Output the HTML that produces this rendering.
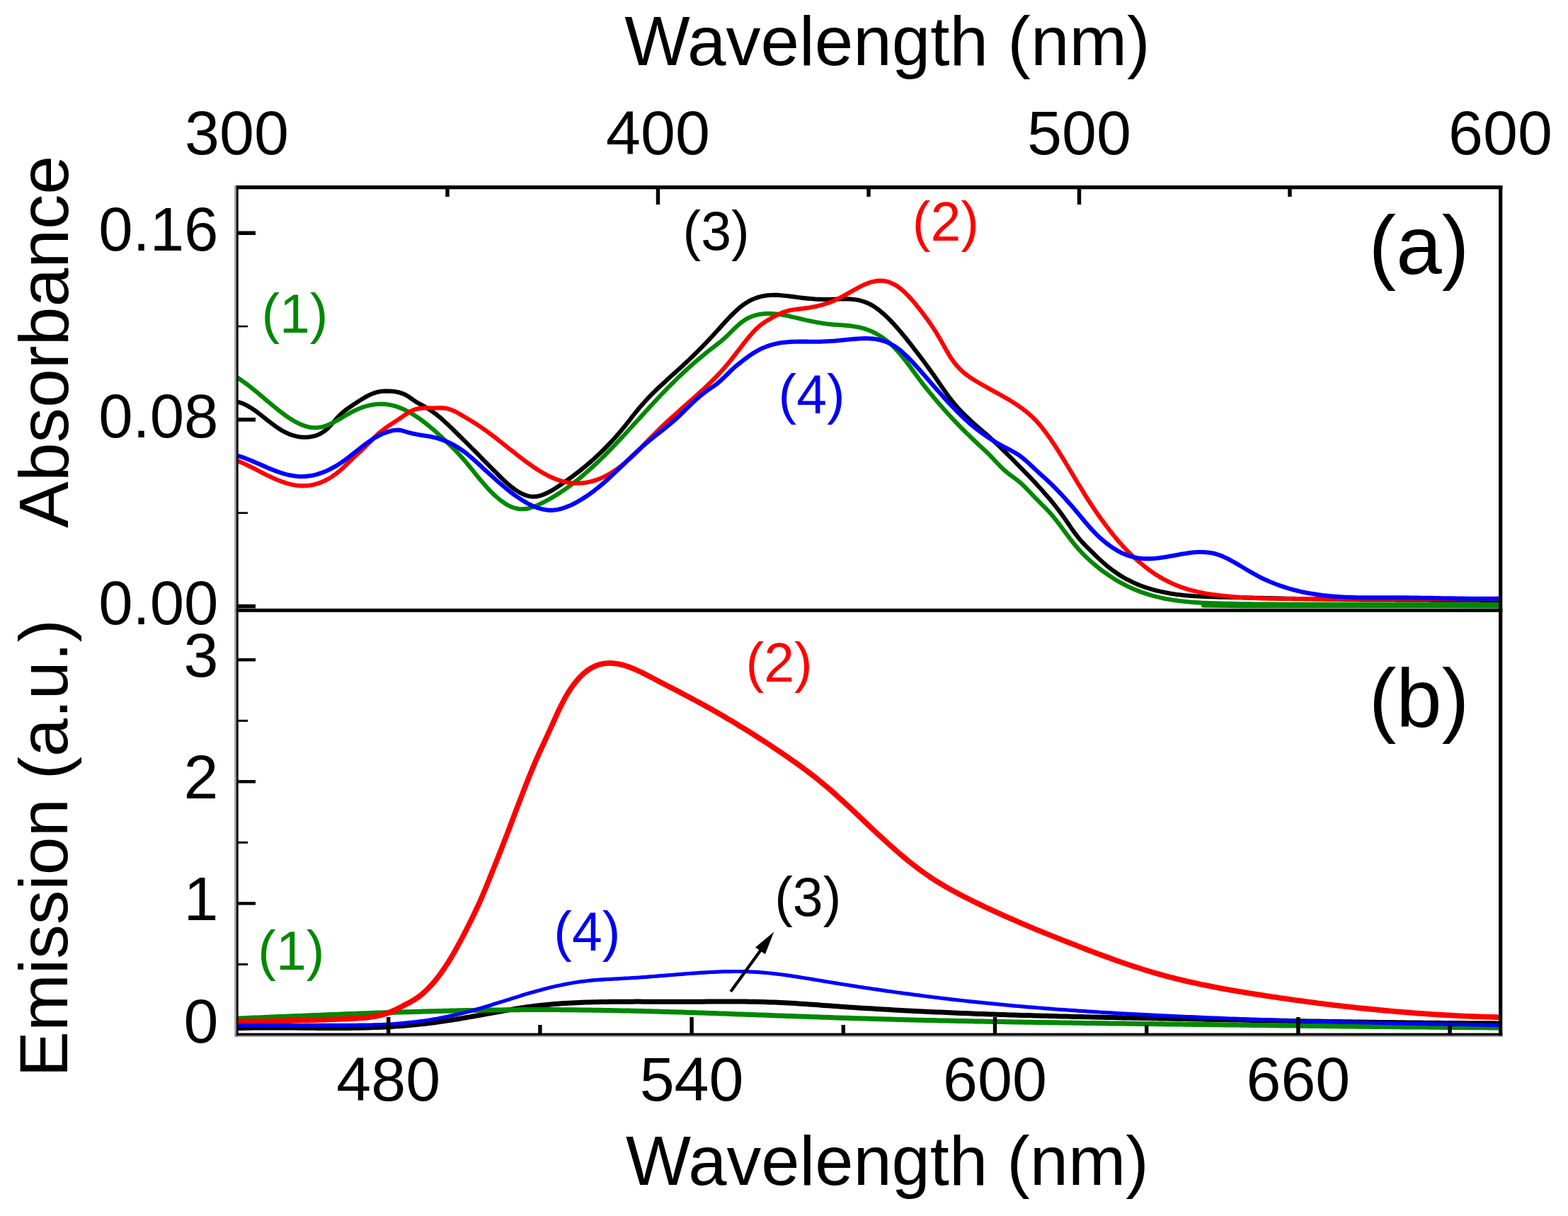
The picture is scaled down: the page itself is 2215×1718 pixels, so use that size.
<!DOCTYPE html>
<html><head><meta charset="utf-8"><title>Absorbance and emission spectra</title>
<style>html,body{margin:0;padding:0;background:#fff;width:2215px;height:1718px;overflow:hidden}</style>
</head><body>
<svg xmlns="http://www.w3.org/2000/svg" width="2215" height="1718" viewBox="0 0 2215 1718" style="display:block;font-family:'Liberation Sans',Arial,sans-serif">
<rect width="2215" height="1718" fill="#fff"/>
<defs><clipPath id="ct"><rect x="336" y="267" width="1781" height="593"/></clipPath><clipPath id="cb"><rect x="336" y="865" width="1781" height="595"/></clipPath></defs>
<g clip-path="url(#ct)" fill="none" stroke-linejoin="round" stroke-linecap="round" stroke-width="6.1">
<path d="M333.0,567.4 L338.0,568.4 L343.0,570.1 L348.0,572.4 L353.0,575.3 L358.0,578.5 L363.0,582.1 L368.0,585.9 L373.0,589.8 L378.0,593.8 L383.0,597.7 L388.0,601.4 L393.0,604.9 L398.0,608.1 L403.0,610.8 L408.0,613.1 L413.0,614.9 L418.0,616.3 L423.0,617.2 L428.0,617.7 L433.0,617.7 L438.0,617.2 L443.0,616.3 L448.0,614.8 L453.0,612.5 L458.0,609.3 L463.0,605.1 L468.0,599.8 L473.0,594.2 L478.0,588.6 L483.0,583.7 L488.0,579.6 L493.0,576.0 L498.0,572.6 L503.0,569.3 L508.0,566.0 L513.0,562.9 L518.0,560.0 L523.0,557.5 L528.0,555.5 L533.0,553.9 L538.0,553.0 L543.0,552.6 L548.0,552.6 L553.0,552.8 L558.0,553.3 L563.0,554.3 L568.0,555.7 L573.0,557.9 L578.0,560.9 L583.0,564.5 L588.0,567.9 L593.0,570.8 L598.0,573.5 L603.0,576.4 L608.0,579.5 L613.0,583.0 L618.0,586.8 L623.0,590.9 L628.0,595.4 L633.0,600.1 L638.0,604.9 L643.0,609.8 L648.0,614.7 L653.0,619.7 L658.0,624.6 L663.0,629.6 L668.0,634.6 L673.0,639.7 L678.0,644.7 L683.0,649.8 L688.0,654.9 L693.0,659.9 L698.0,665.0 L703.0,670.0 L708.0,675.0 L713.0,679.7 L718.0,684.2 L723.0,688.3 L728.0,692.0 L733.0,695.2 L738.0,697.9 L743.0,699.9 L748.0,701.2 L753.0,701.7 L758.0,701.4 L763.0,700.3 L768.0,698.6 L773.0,696.4 L778.0,693.8 L783.0,690.8 L788.0,687.6 L793.0,684.2 L798.0,680.8 L803.0,677.2 L808.0,673.6 L813.0,669.8 L818.0,666.0 L823.0,662.0 L828.0,657.9 L833.0,653.6 L838.0,649.2 L843.0,644.6 L848.0,639.9 L853.0,635.0 L858.0,629.9 L863.0,624.7 L868.0,619.2 L873.0,613.6 L878.0,607.7 L883.0,601.6 L888.0,595.3 L893.0,588.9 L898.0,582.6 L903.0,576.5 L908.0,570.7 L913.0,565.2 L918.0,559.9 L923.0,554.9 L928.0,550.0 L933.0,545.3 L938.0,540.7 L943.0,536.1 L948.0,531.6 L953.0,527.1 L958.0,522.6 L963.0,518.0 L968.0,513.3 L973.0,508.6 L978.0,503.8 L983.0,498.9 L988.0,493.9 L993.0,488.8 L998.0,483.6 L1003.0,478.3 L1008.0,473.0 L1013.0,467.5 L1018.0,461.9 L1023.0,456.4 L1028.0,450.9 L1033.0,445.7 L1038.0,440.8 L1043.0,436.2 L1048.0,432.1 L1053.0,428.6 L1058.0,425.5 L1063.0,423.0 L1068.0,421.0 L1073.0,419.4 L1078.0,418.2 L1083.0,417.4 L1088.0,417.0 L1093.0,416.8 L1098.0,416.9 L1103.0,417.2 L1108.0,417.7 L1113.0,418.3 L1118.0,418.9 L1123.0,419.6 L1128.0,420.3 L1133.0,420.9 L1138.0,421.4 L1143.0,421.9 L1148.0,422.3 L1153.0,422.7 L1158.0,422.9 L1163.0,423.0 L1168.0,423.0 L1173.0,423.0 L1178.0,422.8 L1183.0,422.6 L1188.0,422.4 L1193.0,422.4 L1198.0,422.4 L1203.0,422.7 L1208.0,423.3 L1213.0,424.1 L1218.0,425.4 L1223.0,427.1 L1228.0,429.3 L1233.0,432.0 L1238.0,435.3 L1243.0,439.1 L1248.0,443.3 L1253.0,447.9 L1258.0,453.0 L1263.0,458.3 L1268.0,463.9 L1273.0,469.8 L1278.0,475.8 L1283.0,482.0 L1288.0,488.4 L1293.0,494.8 L1298.0,501.3 L1303.0,508.0 L1308.0,514.7 L1313.0,521.6 L1318.0,528.6 L1323.0,535.8 L1328.0,543.0 L1333.0,550.2 L1338.0,557.3 L1343.0,564.0 L1348.0,570.2 L1353.0,576.0 L1358.0,581.4 L1363.0,586.5 L1368.0,591.3 L1373.0,595.9 L1378.0,600.4 L1383.0,604.8 L1388.0,609.1 L1393.0,613.4 L1398.0,617.8 L1403.0,622.4 L1408.0,627.0 L1413.0,631.8 L1418.0,636.7 L1423.0,641.7 L1428.0,646.7 L1433.0,651.7 L1438.0,656.8 L1443.0,661.9 L1448.0,667.1 L1453.0,672.2 L1458.0,677.4 L1463.0,682.7 L1468.0,688.2 L1473.0,693.7 L1478.0,699.4 L1483.0,705.3 L1488.0,711.3 L1493.0,717.6 L1498.0,724.2 L1503.0,731.1 L1508.0,738.3 L1513.0,745.6 L1518.0,752.7 L1523.0,759.2 L1528.0,765.1 L1533.0,770.4 L1538.0,775.4 L1543.0,780.3 L1548.0,785.2 L1553.0,789.9 L1558.0,794.5 L1563.0,798.8 L1568.0,802.9 L1573.0,806.6 L1578.0,810.1 L1583.0,813.4 L1588.0,816.3 L1593.0,819.1 L1598.0,821.6 L1603.0,823.9 L1608.0,826.1 L1613.0,828.0 L1618.0,829.8 L1623.0,831.4 L1628.0,832.9 L1633.0,834.2 L1638.0,835.4 L1643.0,836.5 L1648.0,837.5 L1653.0,838.4 L1658.0,839.2 L1663.0,839.9 L1668.0,840.5 L1673.0,841.1 L1678.0,841.5 L1683.0,841.9 L1688.0,842.3 L1693.0,842.5 L1698.0,842.8 L1703.0,843.0 L1708.0,843.2 L1713.0,843.3 L1718.0,843.4 L1723.0,843.6 L1728.0,843.7 L1733.0,843.8 L1738.0,843.9 L1743.0,844.0 L1748.0,844.1 L1753.0,844.2 L1758.0,844.4 L1763.0,844.5 L1768.0,844.6 L1773.0,844.7 L1778.0,844.8 L1783.0,844.9 L1788.0,845.0 L1793.0,845.1 L1798.0,845.3 L1803.0,845.4 L1808.0,845.5 L1813.0,845.6 L1818.0,845.7 L1823.0,845.8 L1828.0,845.9 L1833.0,846.0 L1838.0,846.0 L1843.0,846.1 L1848.0,846.2 L1853.0,846.3 L1858.0,846.4 L1863.0,846.4 L1868.0,846.5 L1873.0,846.6 L1878.0,846.6 L1883.0,846.7 L1888.0,846.8 L1893.0,846.8 L1898.0,846.9 L1903.0,846.9 L1908.0,847.0 L1913.0,847.0 L1918.0,847.0 L1923.0,847.1 L1928.0,847.1 L1933.0,847.1 L1938.0,847.2 L1943.0,847.2 L1948.0,847.2 L1953.0,847.3 L1958.0,847.3 L1963.0,847.3 L1968.0,847.3 L1973.0,847.4 L1978.0,847.4 L1983.0,847.4 L1988.0,847.4 L1993.0,847.4 L1998.0,847.5 L2003.0,847.5 L2008.0,847.5 L2013.0,847.5 L2018.0,847.5 L2023.0,847.6 L2028.0,847.6 L2033.0,847.6 L2038.0,847.6 L2043.0,847.6 L2048.0,847.7 L2053.0,847.7 L2058.0,847.7 L2063.0,847.7 L2068.0,847.7 L2073.0,847.8 L2078.0,847.8 L2083.0,847.8 L2088.0,847.8 L2093.0,847.9 L2098.0,847.9 L2103.0,847.9 L2108.0,848.0 L2113.0,848.0 L2118.0,848.1" stroke="#000000"/>
<path d="M1700,855.5 L1760,856.2 L2118,856.4" stroke="#008800" stroke-width="6"/>
<path d="M333.0,532.1 L338.0,535.2 L343.0,538.7 L348.0,542.3 L353.0,546.1 L358.0,550.1 L363.0,554.2 L368.0,558.4 L373.0,562.6 L378.0,566.8 L383.0,571.0 L388.0,575.1 L393.0,579.1 L398.0,583.0 L403.0,586.7 L408.0,590.2 L413.0,593.4 L418.0,596.3 L423.0,598.8 L428.0,600.9 L433.0,602.6 L438.0,603.7 L443.0,604.3 L448.0,604.3 L453.0,603.6 L458.0,602.4 L463.0,600.6 L468.0,598.3 L473.0,595.8 L478.0,593.0 L483.0,590.1 L488.0,587.1 L493.0,584.3 L498.0,581.6 L503.0,579.2 L508.0,577.0 L513.0,575.2 L518.0,573.6 L523.0,572.4 L528.0,571.5 L533.0,571.0 L538.0,570.8 L543.0,570.9 L548.0,571.5 L553.0,572.4 L558.0,573.7 L563.0,575.3 L568.0,577.3 L573.0,579.7 L578.0,582.3 L583.0,585.2 L588.0,588.4 L593.0,591.8 L598.0,595.5 L603.0,599.4 L608.0,603.5 L613.0,607.8 L618.0,612.2 L623.0,616.7 L628.0,621.4 L633.0,626.2 L638.0,631.1 L643.0,636.1 L648.0,641.4 L653.0,646.9 L658.0,652.6 L663.0,658.7 L668.0,664.9 L673.0,671.1 L678.0,677.2 L683.0,683.1 L688.0,688.8 L693.0,694.1 L698.0,699.0 L703.0,703.5 L708.0,707.6 L713.0,711.1 L718.0,714.1 L723.0,716.4 L728.0,718.1 L733.0,719.1 L738.0,719.3 L743.0,718.9 L748.0,717.9 L753.0,716.3 L758.0,714.4 L763.0,712.1 L768.0,709.6 L773.0,706.9 L778.0,704.1 L783.0,701.1 L788.0,698.1 L793.0,694.8 L798.0,691.4 L803.0,687.9 L808.0,684.1 L813.0,680.3 L818.0,676.3 L823.0,672.1 L828.0,667.8 L833.0,663.4 L838.0,658.8 L843.0,654.2 L848.0,649.4 L853.0,644.5 L858.0,639.5 L863.0,634.4 L868.0,629.2 L873.0,623.9 L878.0,618.6 L883.0,613.2 L888.0,607.8 L893.0,602.3 L898.0,596.8 L903.0,591.4 L908.0,585.9 L913.0,580.4 L918.0,574.9 L923.0,569.5 L928.0,564.2 L933.0,558.8 L938.0,553.6 L943.0,548.4 L948.0,543.3 L953.0,538.3 L958.0,533.4 L963.0,528.7 L968.0,524.0 L973.0,519.5 L978.0,515.0 L983.0,510.7 L988.0,506.4 L993.0,502.3 L998.0,498.2 L1003.0,494.2 L1008.0,490.3 L1013.0,486.5 L1018.0,482.6 L1023.0,478.3 L1028.0,473.7 L1033.0,468.7 L1038.0,463.8 L1043.0,459.1 L1048.0,454.9 L1053.0,451.5 L1058.0,448.8 L1063.0,446.7 L1068.0,445.2 L1073.0,444.1 L1078.0,443.4 L1083.0,443.1 L1088.0,443.1 L1093.0,443.3 L1098.0,443.8 L1103.0,444.5 L1108.0,445.3 L1113.0,446.3 L1118.0,447.4 L1123.0,448.6 L1128.0,449.8 L1133.0,450.9 L1138.0,452.1 L1143.0,453.2 L1148.0,454.2 L1153.0,455.2 L1158.0,456.1 L1163.0,456.9 L1168.0,457.6 L1173.0,458.1 L1178.0,458.6 L1183.0,458.9 L1188.0,459.3 L1193.0,459.6 L1198.0,460.1 L1203.0,460.6 L1208.0,461.4 L1213.0,462.3 L1218.0,463.5 L1223.0,465.0 L1228.0,466.8 L1233.0,469.0 L1238.0,471.5 L1243.0,474.5 L1248.0,477.8 L1253.0,481.7 L1258.0,485.9 L1263.0,490.7 L1268.0,496.1 L1273.0,501.9 L1278.0,508.2 L1283.0,514.7 L1288.0,521.4 L1293.0,528.2 L1298.0,535.0 L1303.0,541.6 L1308.0,548.0 L1313.0,554.2 L1318.0,560.3 L1323.0,566.3 L1328.0,572.1 L1333.0,577.8 L1338.0,583.3 L1343.0,588.8 L1348.0,594.1 L1353.0,599.4 L1358.0,604.5 L1363.0,609.5 L1368.0,614.4 L1373.0,619.3 L1378.0,624.0 L1383.0,628.7 L1388.0,633.3 L1393.0,638.0 L1398.0,642.9 L1403.0,648.2 L1408.0,653.5 L1413.0,658.7 L1418.0,663.6 L1423.0,667.9 L1428.0,671.7 L1433.0,675.3 L1438.0,679.2 L1443.0,683.4 L1448.0,688.3 L1453.0,693.4 L1458.0,698.7 L1463.0,703.9 L1468.0,708.9 L1473.0,713.9 L1478.0,718.9 L1483.0,724.3 L1488.0,730.1 L1493.0,736.4 L1498.0,742.9 L1503.0,749.7 L1508.0,756.4 L1513.0,763.0 L1518.0,769.3 L1523.0,775.2 L1528.0,780.6 L1533.0,785.7 L1538.0,790.4 L1543.0,794.9 L1548.0,799.1 L1553.0,803.2 L1558.0,807.0 L1563.0,810.6 L1568.0,814.0 L1573.0,817.3 L1578.0,820.3 L1583.0,823.2 L1588.0,825.8 L1593.0,828.4 L1598.0,830.7 L1603.0,832.9 L1608.0,834.9 L1613.0,836.8 L1618.0,838.5 L1623.0,840.1 L1628.0,841.6 L1633.0,842.9 L1638.0,844.1 L1643.0,845.2 L1648.0,846.2 L1653.0,847.1 L1658.0,847.9 L1663.0,848.6 L1668.0,849.2 L1673.0,849.8 L1678.0,850.3 L1683.0,850.7 L1688.0,851.1 L1693.0,851.4 L1698.0,851.7 L1703.0,851.9 L1708.0,852.1 L1713.0,852.3 L1718.0,852.4 L1723.0,852.6 L1728.0,852.7 L1733.0,852.8 L1738.0,852.9 L1743.0,853.0 L1748.0,853.1 L1753.0,853.2 L1758.0,853.3 L1763.0,853.3 L1768.0,853.4 L1773.0,853.5 L1778.0,853.5 L1783.0,853.5 L1788.0,853.6 L1793.0,853.6 L1798.0,853.6 L1803.0,853.7 L1808.0,853.7 L1813.0,853.7 L1818.0,853.7 L1823.0,853.7 L1828.0,853.7 L1833.0,853.7 L1838.0,853.7 L1843.0,853.8 L1848.0,853.8 L1853.0,853.8 L1858.0,853.8 L1863.0,853.8 L1868.0,853.8 L1873.0,853.8 L1878.0,853.8 L1883.0,853.8 L1888.0,853.8 L1893.0,853.8 L1898.0,853.8 L1903.0,853.8 L1908.0,853.8 L1913.0,853.9 L1918.0,853.9 L1923.0,853.9 L1928.0,853.9 L1933.0,853.9 L1938.0,853.9 L1943.0,853.9 L1948.0,853.9 L1953.0,853.9 L1958.0,853.9 L1963.0,853.9 L1968.0,854.0 L1973.0,854.0 L1978.0,854.0 L1983.0,854.0 L1988.0,854.0 L1993.0,854.0 L1998.0,854.0 L2003.0,854.0 L2008.0,854.0 L2013.0,854.0 L2018.0,854.0 L2023.0,854.0 L2028.0,854.0 L2033.0,854.0 L2038.0,854.0 L2043.0,854.0 L2048.0,854.0 L2053.0,854.0 L2058.0,854.0 L2063.0,854.0 L2068.0,854.0 L2073.0,854.0 L2078.0,854.0 L2083.0,854.0 L2088.0,854.0 L2093.0,854.0 L2098.0,854.0 L2103.0,854.0 L2108.0,854.0 L2113.0,854.0 L2118.0,854.0" stroke="#008800"/>
<path d="M333.0,650.0 L338.0,652.1 L343.0,654.3 L348.0,656.6 L353.0,659.1 L358.0,661.6 L363.0,664.1 L368.0,666.7 L373.0,669.2 L378.0,671.7 L383.0,674.1 L388.0,676.4 L393.0,678.5 L398.0,680.4 L403.0,682.2 L408.0,683.6 L413.0,684.8 L418.0,685.7 L423.0,686.2 L428.0,686.4 L433.0,686.2 L438.0,685.7 L443.0,684.7 L448.0,683.4 L453.0,681.7 L458.0,679.5 L463.0,677.0 L468.0,674.0 L473.0,670.6 L478.0,666.8 L483.0,662.5 L488.0,657.8 L493.0,652.9 L498.0,648.0 L503.0,643.3 L508.0,638.7 L513.0,634.0 L518.0,629.1 L523.0,624.0 L528.0,618.9 L533.0,614.1 L538.0,609.8 L543.0,605.9 L548.0,602.3 L553.0,599.0 L558.0,595.7 L563.0,592.5 L568.0,589.1 L573.0,585.6 L578.0,582.3 L583.0,579.7 L588.0,577.9 L593.0,576.9 L598.0,576.5 L603.0,576.4 L608.0,576.5 L613.0,576.5 L618.0,576.4 L623.0,576.3 L628.0,576.6 L633.0,577.6 L638.0,579.2 L643.0,581.4 L648.0,584.1 L653.0,587.0 L658.0,590.0 L663.0,593.0 L668.0,596.1 L673.0,599.2 L678.0,602.5 L683.0,605.9 L688.0,609.5 L693.0,613.2 L698.0,617.0 L703.0,620.9 L708.0,624.8 L713.0,628.8 L718.0,632.8 L723.0,636.7 L728.0,640.7 L733.0,644.6 L738.0,648.4 L743.0,652.2 L748.0,655.8 L753.0,659.3 L758.0,662.6 L763.0,665.8 L768.0,668.7 L773.0,671.4 L778.0,673.9 L783.0,676.1 L788.0,678.0 L793.0,679.6 L798.0,680.9 L803.0,681.8 L808.0,682.5 L813.0,682.8 L818.0,682.8 L823.0,682.4 L828.0,681.8 L833.0,680.8 L838.0,679.5 L843.0,677.9 L848.0,676.0 L853.0,673.8 L858.0,671.2 L863.0,668.3 L868.0,665.2 L873.0,661.7 L878.0,657.9 L883.0,653.8 L888.0,649.5 L893.0,645.0 L898.0,640.2 L903.0,635.2 L908.0,630.1 L913.0,624.9 L918.0,619.7 L923.0,614.6 L928.0,609.6 L933.0,604.7 L938.0,600.0 L943.0,595.3 L948.0,590.7 L953.0,586.2 L958.0,581.7 L963.0,577.2 L968.0,572.8 L973.0,568.4 L978.0,563.9 L983.0,559.5 L988.0,555.0 L993.0,550.4 L998.0,545.7 L1003.0,540.9 L1008.0,536.0 L1013.0,530.9 L1018.0,525.5 L1023.0,520.0 L1028.0,514.1 L1033.0,508.0 L1038.0,501.6 L1043.0,495.1 L1048.0,488.6 L1053.0,482.1 L1058.0,476.0 L1063.0,470.2 L1068.0,465.0 L1073.0,460.4 L1078.0,456.6 L1083.0,453.3 L1088.0,450.4 L1093.0,447.6 L1098.0,445.0 L1103.0,442.6 L1108.0,440.6 L1113.0,439.1 L1118.0,438.0 L1123.0,437.2 L1128.0,436.6 L1133.0,436.0 L1138.0,435.4 L1143.0,434.7 L1148.0,433.8 L1153.0,432.8 L1158.0,431.6 L1163.0,430.2 L1168.0,428.6 L1173.0,426.8 L1178.0,424.8 L1183.0,422.5 L1188.0,420.0 L1193.0,417.3 L1198.0,414.5 L1203.0,411.6 L1208.0,408.8 L1213.0,406.1 L1218.0,403.5 L1223.0,401.3 L1228.0,399.4 L1233.0,397.9 L1238.0,396.9 L1243.0,396.5 L1248.0,396.8 L1253.0,397.7 L1258.0,399.4 L1263.0,401.7 L1268.0,404.7 L1273.0,408.5 L1278.0,412.9 L1283.0,417.9 L1288.0,423.4 L1293.0,429.3 L1298.0,435.5 L1303.0,441.9 L1308.0,448.6 L1313.0,455.5 L1318.0,462.9 L1323.0,470.7 L1328.0,479.1 L1333.0,488.0 L1338.0,496.9 L1343.0,505.2 L1348.0,512.2 L1353.0,518.2 L1358.0,523.3 L1363.0,527.7 L1368.0,531.5 L1373.0,534.9 L1378.0,538.0 L1383.0,541.0 L1388.0,543.9 L1393.0,546.7 L1398.0,549.5 L1403.0,552.2 L1408.0,555.0 L1413.0,557.7 L1418.0,560.6 L1423.0,563.4 L1428.0,566.5 L1433.0,569.6 L1438.0,572.9 L1443.0,576.4 L1448.0,580.2 L1453.0,584.3 L1458.0,588.8 L1463.0,593.7 L1468.0,599.3 L1473.0,605.4 L1478.0,612.0 L1483.0,618.9 L1488.0,626.3 L1493.0,633.9 L1498.0,641.8 L1503.0,649.9 L1508.0,658.2 L1513.0,666.5 L1518.0,674.9 L1523.0,683.2 L1528.0,691.4 L1533.0,699.6 L1538.0,707.5 L1543.0,715.1 L1548.0,722.6 L1553.0,729.7 L1558.0,736.6 L1563.0,743.3 L1568.0,749.8 L1573.0,756.1 L1578.0,762.2 L1583.0,768.0 L1588.0,773.5 L1593.0,778.7 L1598.0,783.6 L1603.0,788.3 L1608.0,792.8 L1613.0,797.0 L1618.0,801.1 L1623.0,804.9 L1628.0,808.5 L1633.0,811.9 L1638.0,815.0 L1643.0,817.9 L1648.0,820.6 L1653.0,823.0 L1658.0,825.3 L1663.0,827.4 L1668.0,829.3 L1673.0,831.0 L1678.0,832.6 L1683.0,834.0 L1688.0,835.2 L1693.0,836.4 L1698.0,837.4 L1703.0,838.4 L1708.0,839.2 L1713.0,839.9 L1718.0,840.6 L1723.0,841.2 L1728.0,841.8 L1733.0,842.3 L1738.0,842.8 L1743.0,843.2 L1748.0,843.6 L1753.0,844.0 L1758.0,844.3 L1763.0,844.6 L1768.0,844.8 L1773.0,845.0 L1778.0,845.2 L1783.0,845.4 L1788.0,845.5 L1793.0,845.7 L1798.0,845.8 L1803.0,845.8 L1808.0,845.9 L1813.0,846.0 L1818.0,846.0 L1823.0,846.0 L1828.0,846.1 L1833.0,846.1 L1838.0,846.1 L1843.0,846.1 L1848.0,846.1 L1853.0,846.1 L1858.0,846.1 L1863.0,846.1 L1868.0,846.1 L1873.0,846.2 L1878.0,846.2 L1883.0,846.2 L1888.0,846.2 L1893.0,846.2 L1898.0,846.2 L1903.0,846.2 L1908.0,846.2 L1913.0,846.2 L1918.0,846.2 L1923.0,846.2 L1928.0,846.2 L1933.0,846.2 L1938.0,846.2 L1943.0,846.2 L1948.0,846.2 L1953.0,846.2 L1958.0,846.2 L1963.0,846.2 L1968.0,846.2 L1973.0,846.2 L1978.0,846.2 L1983.0,846.2 L1988.0,846.2 L1993.0,846.2 L1998.0,846.2 L2003.0,846.2 L2008.0,846.2 L2013.0,846.2 L2018.0,846.2 L2023.0,846.2 L2028.0,846.2 L2033.0,846.2 L2038.0,846.2 L2043.0,846.2 L2048.0,846.2 L2053.0,846.2 L2058.0,846.2 L2063.0,846.2 L2068.0,846.3 L2073.0,846.3 L2078.0,846.3 L2083.0,846.3 L2088.0,846.3 L2093.0,846.3 L2098.0,846.3 L2103.0,846.3 L2108.0,846.3 L2113.0,846.3 L2118.0,846.3" stroke="#ff0000"/>
<path d="M333.0,643.1 L338.0,644.6 L343.0,646.2 L348.0,648.1 L353.0,650.0 L358.0,652.1 L363.0,654.2 L368.0,656.4 L373.0,658.6 L378.0,660.8 L383.0,662.8 L388.0,664.8 L393.0,666.7 L398.0,668.4 L403.0,669.9 L408.0,671.1 L413.0,672.1 L418.0,672.8 L423.0,673.2 L428.0,673.2 L433.0,672.9 L438.0,672.3 L443.0,671.4 L448.0,670.1 L453.0,668.5 L458.0,666.7 L463.0,664.5 L468.0,662.0 L473.0,659.3 L478.0,656.3 L483.0,653.0 L488.0,649.4 L493.0,645.6 L498.0,641.7 L503.0,637.8 L508.0,633.8 L513.0,629.9 L518.0,626.2 L523.0,622.7 L528.0,619.4 L533.0,616.5 L538.0,614.0 L543.0,611.8 L548.0,610.1 L553.0,608.6 L558.0,607.7 L563.0,607.5 L568.0,608.3 L573.0,609.8 L578.0,611.3 L583.0,612.6 L588.0,613.6 L593.0,614.4 L598.0,615.2 L603.0,615.9 L608.0,616.8 L613.0,617.9 L618.0,619.2 L623.0,620.8 L628.0,622.6 L633.0,624.7 L638.0,627.1 L643.0,629.8 L648.0,632.9 L653.0,636.2 L658.0,639.9 L663.0,644.0 L668.0,648.3 L673.0,652.8 L678.0,657.3 L683.0,661.9 L688.0,666.5 L693.0,671.1 L698.0,675.6 L703.0,680.0 L708.0,684.3 L713.0,688.5 L718.0,692.6 L723.0,696.5 L728.0,700.2 L733.0,703.6 L738.0,706.9 L743.0,709.9 L748.0,712.6 L753.0,715.0 L758.0,717.0 L763.0,718.6 L768.0,719.8 L773.0,720.6 L778.0,720.9 L783.0,720.6 L788.0,719.9 L793.0,718.7 L798.0,717.1 L803.0,715.2 L808.0,712.9 L813.0,710.4 L818.0,707.6 L823.0,704.6 L828.0,701.4 L833.0,697.9 L838.0,694.3 L843.0,690.4 L848.0,686.4 L853.0,682.1 L858.0,677.7 L863.0,673.1 L868.0,668.4 L873.0,663.6 L878.0,658.8 L883.0,654.0 L888.0,649.1 L893.0,644.3 L898.0,639.6 L903.0,635.0 L908.0,630.5 L913.0,626.2 L918.0,622.0 L923.0,617.9 L928.0,613.9 L933.0,610.0 L938.0,606.0 L943.0,601.9 L948.0,597.8 L953.0,593.4 L958.0,588.9 L963.0,584.2 L968.0,579.3 L973.0,574.4 L978.0,569.6 L983.0,564.9 L988.0,560.4 L993.0,556.3 L998.0,552.5 L1003.0,549.1 L1008.0,545.8 L1013.0,542.1 L1018.0,537.9 L1023.0,533.1 L1028.0,528.2 L1033.0,523.3 L1038.0,518.6 L1043.0,514.5 L1048.0,510.6 L1053.0,506.8 L1058.0,503.1 L1063.0,499.7 L1068.0,496.6 L1073.0,493.8 L1078.0,491.5 L1083.0,489.5 L1088.0,487.8 L1093.0,486.4 L1098.0,485.2 L1103.0,484.3 L1108.0,483.7 L1113.0,483.2 L1118.0,482.9 L1123.0,482.7 L1128.0,482.6 L1133.0,482.6 L1138.0,482.6 L1143.0,482.7 L1148.0,482.7 L1153.0,482.7 L1158.0,482.7 L1163.0,482.5 L1168.0,482.3 L1173.0,482.0 L1178.0,481.7 L1183.0,481.3 L1188.0,480.8 L1193.0,480.3 L1198.0,479.8 L1203.0,479.3 L1208.0,478.9 L1213.0,478.5 L1218.0,478.2 L1223.0,478.1 L1228.0,478.2 L1233.0,478.6 L1238.0,479.3 L1243.0,480.3 L1248.0,481.7 L1253.0,483.5 L1258.0,485.8 L1263.0,488.6 L1268.0,492.0 L1273.0,495.9 L1278.0,500.4 L1283.0,505.2 L1288.0,510.4 L1293.0,515.9 L1298.0,521.4 L1303.0,527.1 L1308.0,532.8 L1313.0,538.5 L1318.0,544.2 L1323.0,549.9 L1328.0,555.5 L1333.0,561.1 L1338.0,566.6 L1343.0,572.0 L1348.0,577.2 L1353.0,582.4 L1358.0,587.3 L1363.0,592.0 L1368.0,596.6 L1373.0,600.9 L1378.0,605.0 L1383.0,608.9 L1388.0,612.6 L1393.0,616.1 L1398.0,619.5 L1403.0,622.6 L1408.0,625.6 L1413.0,628.5 L1418.0,631.2 L1423.0,633.8 L1428.0,636.4 L1433.0,639.1 L1438.0,642.1 L1443.0,645.7 L1448.0,649.8 L1453.0,654.3 L1458.0,659.0 L1463.0,663.6 L1468.0,668.2 L1473.0,672.7 L1478.0,677.3 L1483.0,681.9 L1488.0,686.8 L1493.0,691.8 L1498.0,697.1 L1503.0,702.5 L1508.0,708.1 L1513.0,713.8 L1518.0,719.6 L1523.0,725.5 L1528.0,731.5 L1533.0,737.5 L1538.0,743.4 L1543.0,748.9 L1548.0,754.1 L1553.0,759.0 L1558.0,763.4 L1563.0,767.5 L1568.0,771.3 L1573.0,774.7 L1578.0,777.7 L1583.0,780.4 L1588.0,782.7 L1593.0,784.7 L1598.0,786.3 L1603.0,787.5 L1608.0,788.5 L1613.0,789.1 L1618.0,789.4 L1623.0,789.4 L1628.0,789.2 L1633.0,788.8 L1638.0,788.2 L1643.0,787.5 L1648.0,786.7 L1653.0,785.8 L1658.0,784.9 L1663.0,784.0 L1668.0,783.0 L1673.0,782.2 L1678.0,781.4 L1683.0,780.8 L1688.0,780.3 L1693.0,780.0 L1698.0,780.0 L1703.0,780.2 L1708.0,780.7 L1713.0,781.5 L1718.0,782.8 L1723.0,784.4 L1728.0,786.4 L1733.0,788.7 L1738.0,791.3 L1743.0,794.1 L1748.0,797.0 L1753.0,800.0 L1758.0,803.0 L1763.0,806.0 L1768.0,808.9 L1773.0,811.7 L1778.0,814.4 L1783.0,816.9 L1788.0,819.2 L1793.0,821.5 L1798.0,823.5 L1803.0,825.5 L1808.0,827.3 L1813.0,829.0 L1818.0,830.6 L1823.0,832.1 L1828.0,833.5 L1833.0,834.7 L1838.0,835.9 L1843.0,836.9 L1848.0,837.9 L1853.0,838.8 L1858.0,839.6 L1863.0,840.3 L1868.0,841.0 L1873.0,841.5 L1878.0,842.1 L1883.0,842.5 L1888.0,842.9 L1893.0,843.2 L1898.0,843.5 L1903.0,843.7 L1908.0,843.9 L1913.0,844.1 L1918.0,844.2 L1923.0,844.3 L1928.0,844.4 L1933.0,844.4 L1938.0,844.4 L1943.0,844.4 L1948.0,844.4 L1953.0,844.4 L1958.0,844.4 L1963.0,844.4 L1968.0,844.4 L1973.0,844.4 L1978.0,844.4 L1983.0,844.4 L1988.0,844.4 L1993.0,844.5 L1998.0,844.5 L2003.0,844.6 L2008.0,844.7 L2013.0,844.7 L2018.0,844.8 L2023.0,844.9 L2028.0,845.0 L2033.0,845.1 L2038.0,845.2 L2043.0,845.3 L2048.0,845.3 L2053.0,845.4 L2058.0,845.5 L2063.0,845.6 L2068.0,845.6 L2073.0,845.7 L2078.0,845.7 L2083.0,845.8 L2088.0,845.8 L2093.0,845.8 L2098.0,845.8 L2103.0,845.8 L2108.0,845.7 L2113.0,845.7 L2118.0,845.6" stroke="#0000ff"/>
</g>
<g clip-path="url(#cb)" fill="none" stroke-linejoin="round" stroke-linecap="round" stroke-width="7.6">
<path d="M333.0,1452.7 L338.0,1452.5 L343.0,1452.4 L348.0,1452.3 L353.0,1452.2 L358.0,1452.1 L363.0,1452.1 L368.0,1452.0 L373.0,1452.0 L378.0,1452.0 L383.0,1451.9 L388.0,1452.0 L393.0,1452.0 L398.0,1452.0 L403.0,1452.0 L408.0,1452.0 L413.0,1452.1 L418.0,1452.1 L423.0,1452.2 L428.0,1452.2 L433.0,1452.2 L438.0,1452.3 L443.0,1452.3 L448.0,1452.4 L453.0,1452.4 L458.0,1452.4 L463.0,1452.5 L468.0,1452.5 L473.0,1452.5 L478.0,1452.5 L483.0,1452.4 L488.0,1452.4 L493.0,1452.4 L498.0,1452.3 L503.0,1452.2 L508.0,1452.2 L513.0,1452.1 L518.0,1451.9 L523.0,1451.8 L528.0,1451.6 L533.0,1451.4 L538.0,1451.2 L543.0,1451.0 L548.0,1450.7 L553.0,1450.4 L558.0,1450.1 L563.0,1449.8 L568.0,1449.4 L573.0,1449.0 L578.0,1448.6 L583.0,1448.1 L588.0,1447.6 L593.0,1447.1 L598.0,1446.5 L603.0,1445.9 L608.0,1445.3 L613.0,1444.7 L618.0,1444.0 L623.0,1443.3 L628.0,1442.6 L633.0,1441.9 L638.0,1441.1 L643.0,1440.3 L648.0,1439.5 L653.0,1438.6 L658.0,1437.8 L663.0,1436.9 L668.0,1436.0 L673.0,1435.1 L678.0,1434.2 L683.0,1433.3 L688.0,1432.4 L693.0,1431.5 L698.0,1430.6 L703.0,1429.7 L708.0,1428.8 L713.0,1427.9 L718.0,1427.0 L723.0,1426.1 L728.0,1425.3 L733.0,1424.5 L738.0,1423.7 L743.0,1423.0 L748.0,1422.3 L753.0,1421.7 L758.0,1421.0 L763.0,1420.5 L768.0,1419.9 L773.0,1419.4 L778.0,1419.0 L783.0,1418.6 L788.0,1418.2 L793.0,1417.8 L798.0,1417.5 L803.0,1417.2 L808.0,1416.9 L813.0,1416.7 L818.0,1416.4 L823.0,1416.2 L828.0,1416.1 L833.0,1415.9 L838.0,1415.8 L843.0,1415.7 L848.0,1415.6 L853.0,1415.5 L858.0,1415.4 L863.0,1415.3 L868.0,1415.3 L873.0,1415.2 L878.0,1415.2 L883.0,1415.2 L888.0,1415.2 L893.0,1415.2 L898.0,1415.1 L903.0,1415.1 L908.0,1415.2 L913.0,1415.2 L918.0,1415.2 L923.0,1415.2 L928.0,1415.2 L933.0,1415.2 L938.0,1415.2 L943.0,1415.2 L948.0,1415.2 L953.0,1415.3 L958.0,1415.3 L963.0,1415.3 L968.0,1415.3 L973.0,1415.2 L978.0,1415.2 L983.0,1415.2 L988.0,1415.2 L993.0,1415.2 L998.0,1415.1 L1003.0,1415.1 L1008.0,1415.1 L1013.0,1415.0 L1018.0,1415.0 L1023.0,1415.0 L1028.0,1415.0 L1033.0,1415.0 L1038.0,1415.0 L1043.0,1415.0 L1048.0,1415.0 L1053.0,1415.1 L1058.0,1415.2 L1063.0,1415.2 L1068.0,1415.3 L1073.0,1415.4 L1078.0,1415.6 L1083.0,1415.7 L1088.0,1415.9 L1093.0,1416.1 L1098.0,1416.3 L1103.0,1416.5 L1108.0,1416.8 L1113.0,1417.0 L1118.0,1417.3 L1123.0,1417.6 L1128.0,1417.9 L1133.0,1418.3 L1138.0,1418.6 L1143.0,1418.9 L1148.0,1419.3 L1153.0,1419.6 L1158.0,1420.0 L1163.0,1420.4 L1168.0,1420.7 L1173.0,1421.1 L1178.0,1421.5 L1183.0,1421.8 L1188.0,1422.2 L1193.0,1422.5 L1198.0,1422.9 L1203.0,1423.2 L1208.0,1423.5 L1213.0,1423.9 L1218.0,1424.2 L1223.0,1424.5 L1228.0,1424.8 L1233.0,1425.1 L1238.0,1425.4 L1243.0,1425.7 L1248.0,1426.0 L1253.0,1426.3 L1258.0,1426.6 L1263.0,1426.9 L1268.0,1427.2 L1273.0,1427.4 L1278.0,1427.7 L1283.0,1428.0 L1288.0,1428.2 L1293.0,1428.5 L1298.0,1428.7 L1303.0,1429.0 L1308.0,1429.2 L1313.0,1429.4 L1318.0,1429.7 L1323.0,1429.9 L1328.0,1430.1 L1333.0,1430.3 L1338.0,1430.6 L1343.0,1430.8 L1348.0,1431.0 L1353.0,1431.2 L1358.0,1431.4 L1363.0,1431.6 L1368.0,1431.8 L1373.0,1432.0 L1378.0,1432.2 L1383.0,1432.4 L1388.0,1432.5 L1393.0,1432.7 L1398.0,1432.9 L1403.0,1433.1 L1408.0,1433.2 L1413.0,1433.4 L1418.0,1433.6 L1423.0,1433.7 L1428.0,1433.9 L1433.0,1434.0 L1438.0,1434.2 L1443.0,1434.4 L1448.0,1434.5 L1453.0,1434.6 L1458.0,1434.8 L1463.0,1434.9 L1468.0,1435.1 L1473.0,1435.2 L1478.0,1435.3 L1483.0,1435.5 L1488.0,1435.6 L1493.0,1435.7 L1498.0,1435.9 L1503.0,1436.0 L1508.0,1436.1 L1513.0,1436.2 L1518.0,1436.4 L1523.0,1436.5 L1528.0,1436.6 L1533.0,1436.7 L1538.0,1436.8 L1543.0,1436.9 L1548.0,1437.0 L1553.0,1437.2 L1558.0,1437.3 L1563.0,1437.4 L1568.0,1437.5 L1573.0,1437.6 L1578.0,1437.7 L1583.0,1437.8 L1588.0,1437.9 L1593.0,1438.0 L1598.0,1438.1 L1603.0,1438.2 L1608.0,1438.3 L1613.0,1438.4 L1618.0,1438.5 L1623.0,1438.6 L1628.0,1438.7 L1633.0,1438.8 L1638.0,1438.9 L1643.0,1439.0 L1648.0,1439.1 L1653.0,1439.2 L1658.0,1439.3 L1663.0,1439.4 L1668.0,1439.5 L1673.0,1439.6 L1678.0,1439.7 L1683.0,1439.8 L1688.0,1439.9 L1693.0,1440.0 L1698.0,1440.1 L1703.0,1440.2 L1708.0,1440.3 L1713.0,1440.4 L1718.0,1440.5 L1723.0,1440.6 L1728.0,1440.7 L1733.0,1440.8 L1738.0,1440.9 L1743.0,1440.9 L1748.0,1441.0 L1753.0,1441.1 L1758.0,1441.2 L1763.0,1441.3 L1768.0,1441.4 L1773.0,1441.5 L1778.0,1441.6 L1783.0,1441.7 L1788.0,1441.8 L1793.0,1441.9 L1798.0,1442.0 L1803.0,1442.1 L1808.0,1442.2 L1813.0,1442.2 L1818.0,1442.3 L1823.0,1442.4 L1828.0,1442.5 L1833.0,1442.6 L1838.0,1442.7 L1843.0,1442.8 L1848.0,1442.9 L1853.0,1442.9 L1858.0,1443.0 L1863.0,1443.1 L1868.0,1443.2 L1873.0,1443.3 L1878.0,1443.4 L1883.0,1443.4 L1888.0,1443.5 L1893.0,1443.6 L1898.0,1443.7 L1903.0,1443.7 L1908.0,1443.8 L1913.0,1443.9 L1918.0,1444.0 L1923.0,1444.0 L1928.0,1444.1 L1933.0,1444.2 L1938.0,1444.3 L1943.0,1444.3 L1948.0,1444.4 L1953.0,1444.5 L1958.0,1444.5 L1963.0,1444.6 L1968.0,1444.6 L1973.0,1444.7 L1978.0,1444.8 L1983.0,1444.8 L1988.0,1444.9 L1993.0,1444.9 L1998.0,1445.0 L2003.0,1445.0 L2008.0,1445.1 L2013.0,1445.2 L2018.0,1445.2 L2023.0,1445.3 L2028.0,1445.3 L2033.0,1445.3 L2038.0,1445.4 L2043.0,1445.4 L2048.0,1445.5 L2053.0,1445.5 L2058.0,1445.6 L2063.0,1445.6 L2068.0,1445.6 L2073.0,1445.7 L2078.0,1445.7 L2083.0,1445.7 L2088.0,1445.7 L2093.0,1445.8 L2098.0,1445.8 L2103.0,1445.8 L2108.0,1445.8 L2113.0,1445.9 L2118.0,1445.9" stroke="#000000" stroke-width="7.0"/>
<path d="M333.0,1439.2 L338.0,1438.9 L343.0,1438.7 L348.0,1438.5 L353.0,1438.3 L358.0,1438.1 L363.0,1437.9 L368.0,1437.7 L373.0,1437.5 L378.0,1437.3 L383.0,1437.1 L388.0,1436.8 L393.0,1436.6 L398.0,1436.4 L403.0,1436.2 L408.0,1436.0 L413.0,1435.8 L418.0,1435.6 L423.0,1435.4 L428.0,1435.2 L433.0,1435.0 L438.0,1434.8 L443.0,1434.6 L448.0,1434.4 L453.0,1434.2 L458.0,1434.0 L463.0,1433.8 L468.0,1433.6 L473.0,1433.4 L478.0,1433.2 L483.0,1433.0 L488.0,1432.8 L493.0,1432.6 L498.0,1432.4 L503.0,1432.2 L508.0,1432.0 L513.0,1431.8 L518.0,1431.7 L523.0,1431.5 L528.0,1431.3 L533.0,1431.1 L538.0,1431.0 L543.0,1430.8 L548.0,1430.6 L553.0,1430.5 L558.0,1430.3 L563.0,1430.1 L568.0,1430.0 L573.0,1429.8 L578.0,1429.7 L583.0,1429.5 L588.0,1429.4 L593.0,1429.2 L598.0,1429.1 L603.0,1428.9 L608.0,1428.8 L613.0,1428.7 L618.0,1428.5 L623.0,1428.4 L628.0,1428.3 L633.0,1428.2 L638.0,1428.1 L643.0,1428.0 L648.0,1427.8 L653.0,1427.7 L658.0,1427.6 L663.0,1427.5 L668.0,1427.5 L673.0,1427.4 L678.0,1427.3 L683.0,1427.2 L688.0,1427.1 L693.0,1427.1 L698.0,1427.0 L703.0,1426.9 L708.0,1426.9 L713.0,1426.8 L718.0,1426.8 L723.0,1426.7 L728.0,1426.7 L733.0,1426.7 L738.0,1426.6 L743.0,1426.6 L748.0,1426.6 L753.0,1426.6 L758.0,1426.6 L763.0,1426.6 L768.0,1426.6 L773.0,1426.6 L778.0,1426.6 L783.0,1426.6 L788.0,1426.6 L793.0,1426.7 L798.0,1426.7 L803.0,1426.7 L808.0,1426.8 L813.0,1426.8 L818.0,1426.9 L823.0,1426.9 L828.0,1427.0 L833.0,1427.1 L838.0,1427.2 L843.0,1427.2 L848.0,1427.3 L853.0,1427.4 L858.0,1427.5 L863.0,1427.6 L868.0,1427.7 L873.0,1427.8 L878.0,1427.9 L883.0,1428.0 L888.0,1428.1 L893.0,1428.2 L898.0,1428.3 L903.0,1428.5 L908.0,1428.6 L913.0,1428.7 L918.0,1428.8 L923.0,1429.0 L928.0,1429.1 L933.0,1429.3 L938.0,1429.4 L943.0,1429.5 L948.0,1429.7 L953.0,1429.8 L958.0,1430.0 L963.0,1430.1 L968.0,1430.3 L973.0,1430.5 L978.0,1430.6 L983.0,1430.8 L988.0,1431.0 L993.0,1431.1 L998.0,1431.3 L1003.0,1431.5 L1008.0,1431.6 L1013.0,1431.8 L1018.0,1432.0 L1023.0,1432.1 L1028.0,1432.3 L1033.0,1432.5 L1038.0,1432.7 L1043.0,1432.9 L1048.0,1433.0 L1053.0,1433.2 L1058.0,1433.4 L1063.0,1433.6 L1068.0,1433.8 L1073.0,1433.9 L1078.0,1434.1 L1083.0,1434.3 L1088.0,1434.5 L1093.0,1434.7 L1098.0,1434.9 L1103.0,1435.0 L1108.0,1435.2 L1113.0,1435.4 L1118.0,1435.6 L1123.0,1435.8 L1128.0,1435.9 L1133.0,1436.1 L1138.0,1436.3 L1143.0,1436.5 L1148.0,1436.7 L1153.0,1436.8 L1158.0,1437.0 L1163.0,1437.2 L1168.0,1437.3 L1173.0,1437.5 L1178.0,1437.7 L1183.0,1437.9 L1188.0,1438.0 L1193.0,1438.2 L1198.0,1438.3 L1203.0,1438.5 L1208.0,1438.7 L1213.0,1438.8 L1218.0,1439.0 L1223.0,1439.1 L1228.0,1439.3 L1233.0,1439.4 L1238.0,1439.6 L1243.0,1439.7 L1248.0,1439.8 L1253.0,1440.0 L1258.0,1440.1 L1263.0,1440.3 L1268.0,1440.4 L1273.0,1440.5 L1278.0,1440.7 L1283.0,1440.8 L1288.0,1440.9 L1293.0,1441.0 L1298.0,1441.2 L1303.0,1441.3 L1308.0,1441.4 L1313.0,1441.5 L1318.0,1441.6 L1323.0,1441.7 L1328.0,1441.9 L1333.0,1442.0 L1338.0,1442.1 L1343.0,1442.2 L1348.0,1442.3 L1353.0,1442.4 L1358.0,1442.5 L1363.0,1442.6 L1368.0,1442.7 L1373.0,1442.8 L1378.0,1442.9 L1383.0,1443.0 L1388.0,1443.1 L1393.0,1443.2 L1398.0,1443.3 L1403.0,1443.4 L1408.0,1443.5 L1413.0,1443.6 L1418.0,1443.6 L1423.0,1443.7 L1428.0,1443.8 L1433.0,1443.9 L1438.0,1444.0 L1443.0,1444.1 L1448.0,1444.2 L1453.0,1444.2 L1458.0,1444.3 L1463.0,1444.4 L1468.0,1444.5 L1473.0,1444.5 L1478.0,1444.6 L1483.0,1444.7 L1488.0,1444.8 L1493.0,1444.8 L1498.0,1444.9 L1503.0,1445.0 L1508.0,1445.1 L1513.0,1445.1 L1518.0,1445.2 L1523.0,1445.3 L1528.0,1445.3 L1533.0,1445.4 L1538.0,1445.5 L1543.0,1445.5 L1548.0,1445.6 L1553.0,1445.7 L1558.0,1445.7 L1563.0,1445.8 L1568.0,1445.9 L1573.0,1445.9 L1578.0,1446.0 L1583.0,1446.1 L1588.0,1446.1 L1593.0,1446.2 L1598.0,1446.3 L1603.0,1446.3 L1608.0,1446.4 L1613.0,1446.4 L1618.0,1446.5 L1623.0,1446.6 L1628.0,1446.6 L1633.0,1446.7 L1638.0,1446.8 L1643.0,1446.8 L1648.0,1446.9 L1653.0,1446.9 L1658.0,1447.0 L1663.0,1447.1 L1668.0,1447.1 L1673.0,1447.2 L1678.0,1447.3 L1683.0,1447.3 L1688.0,1447.4 L1693.0,1447.4 L1698.0,1447.5 L1703.0,1447.6 L1708.0,1447.6 L1713.0,1447.7 L1718.0,1447.8 L1723.0,1447.8 L1728.0,1447.9 L1733.0,1447.9 L1738.0,1448.0 L1743.0,1448.1 L1748.0,1448.1 L1753.0,1448.2 L1758.0,1448.3 L1763.0,1448.3 L1768.0,1448.4 L1773.0,1448.4 L1778.0,1448.5 L1783.0,1448.6 L1788.0,1448.6 L1793.0,1448.7 L1798.0,1448.8 L1803.0,1448.8 L1808.0,1448.9 L1813.0,1448.9 L1818.0,1449.0 L1823.0,1449.1 L1828.0,1449.1 L1833.0,1449.2 L1838.0,1449.2 L1843.0,1449.3 L1848.0,1449.4 L1853.0,1449.4 L1858.0,1449.5 L1863.0,1449.5 L1868.0,1449.6 L1873.0,1449.7 L1878.0,1449.7 L1883.0,1449.8 L1888.0,1449.8 L1893.0,1449.9 L1898.0,1449.9 L1903.0,1450.0 L1908.0,1450.1 L1913.0,1450.1 L1918.0,1450.2 L1923.0,1450.2 L1928.0,1450.3 L1933.0,1450.3 L1938.0,1450.4 L1943.0,1450.4 L1948.0,1450.5 L1953.0,1450.5 L1958.0,1450.6 L1963.0,1450.6 L1968.0,1450.7 L1973.0,1450.8 L1978.0,1450.8 L1983.0,1450.9 L1988.0,1450.9 L1993.0,1450.9 L1998.0,1451.0 L2003.0,1451.0 L2008.0,1451.1 L2013.0,1451.1 L2018.0,1451.2 L2023.0,1451.2 L2028.0,1451.3 L2033.0,1451.3 L2038.0,1451.4 L2043.0,1451.4 L2048.0,1451.5 L2053.0,1451.5 L2058.0,1451.5 L2063.0,1451.6 L2068.0,1451.6 L2073.0,1451.7 L2078.0,1451.7 L2083.0,1451.7 L2088.0,1451.8 L2093.0,1451.8 L2098.0,1451.8 L2103.0,1451.9 L2108.0,1451.9 L2113.0,1451.9 L2118.0,1452.0" stroke="#008800" stroke-width="7.0"/>
<path d="M333.0,1443.1 L338.0,1443.1 L343.0,1443.1 L348.0,1443.1 L353.0,1443.1 L358.0,1443.0 L363.0,1443.0 L368.0,1442.9 L373.0,1442.8 L378.0,1442.8 L383.0,1442.7 L388.0,1442.6 L393.0,1442.5 L398.0,1442.3 L403.0,1442.2 L408.0,1442.1 L413.0,1442.0 L418.0,1441.8 L423.0,1441.7 L428.0,1441.5 L433.0,1441.4 L438.0,1441.2 L443.0,1441.1 L448.0,1440.9 L453.0,1440.8 L458.0,1440.6 L463.0,1440.5 L468.0,1440.3 L473.0,1440.2 L478.0,1440.0 L483.0,1439.8 L488.0,1439.6 L493.0,1439.4 L498.0,1439.1 L503.0,1438.8 L508.0,1438.5 L513.0,1438.1 L518.0,1437.7 L523.0,1437.1 L528.0,1436.3 L533.0,1435.4 L538.0,1434.3 L543.0,1432.8 L548.0,1431.1 L553.0,1429.1 L558.0,1426.9 L563.0,1424.4 L568.0,1421.9 L573.0,1419.2 L578.0,1416.6 L583.0,1413.8 L588.0,1410.7 L593.0,1407.1 L598.0,1403.0 L603.0,1398.4 L608.0,1393.2 L613.0,1387.6 L618.0,1381.4 L623.0,1374.7 L628.0,1367.5 L633.0,1359.9 L638.0,1351.7 L643.0,1343.1 L648.0,1334.0 L653.0,1324.7 L658.0,1315.0 L663.0,1305.1 L668.0,1295.0 L673.0,1284.5 L678.0,1273.6 L683.0,1262.0 L688.0,1250.0 L693.0,1237.6 L698.0,1225.2 L703.0,1212.7 L708.0,1200.0 L713.0,1187.1 L718.0,1174.1 L723.0,1160.9 L728.0,1147.7 L733.0,1134.5 L738.0,1121.5 L743.0,1108.6 L748.0,1096.1 L753.0,1084.0 L758.0,1072.3 L763.0,1061.1 L768.0,1050.3 L773.0,1039.5 L778.0,1028.5 L783.0,1017.4 L788.0,1006.4 L793.0,995.9 L798.0,986.4 L803.0,977.9 L808.0,970.3 L813.0,963.7 L818.0,957.9 L823.0,952.9 L828.0,948.6 L833.0,945.1 L838.0,942.3 L843.0,940.1 L848.0,938.5 L853.0,937.5 L858.0,937.0 L863.0,936.9 L868.0,937.2 L873.0,938.0 L878.0,939.0 L883.0,940.4 L888.0,942.1 L893.0,944.0 L898.0,946.1 L903.0,948.4 L908.0,950.8 L913.0,953.3 L918.0,955.9 L923.0,958.5 L928.0,961.1 L933.0,963.8 L938.0,966.4 L943.0,969.0 L948.0,971.5 L953.0,974.1 L958.0,976.7 L963.0,979.4 L968.0,982.0 L973.0,984.6 L978.0,987.3 L983.0,990.0 L988.0,992.7 L993.0,995.4 L998.0,998.2 L1003.0,1000.9 L1008.0,1003.8 L1013.0,1006.6 L1018.0,1009.5 L1023.0,1012.4 L1028.0,1015.4 L1033.0,1018.3 L1038.0,1021.3 L1043.0,1024.4 L1048.0,1027.4 L1053.0,1030.5 L1058.0,1033.6 L1063.0,1036.8 L1068.0,1040.0 L1073.0,1043.2 L1078.0,1046.4 L1083.0,1049.7 L1088.0,1052.9 L1093.0,1056.3 L1098.0,1059.6 L1103.0,1063.0 L1108.0,1066.4 L1113.0,1069.8 L1118.0,1073.3 L1123.0,1076.8 L1128.0,1080.4 L1133.0,1084.1 L1138.0,1087.8 L1143.0,1091.6 L1148.0,1095.4 L1153.0,1099.3 L1158.0,1103.4 L1163.0,1107.5 L1168.0,1111.7 L1173.0,1116.0 L1178.0,1120.4 L1183.0,1124.8 L1188.0,1129.4 L1193.0,1134.0 L1198.0,1138.6 L1203.0,1143.3 L1208.0,1148.0 L1213.0,1152.7 L1218.0,1157.5 L1223.0,1162.2 L1228.0,1167.0 L1233.0,1171.7 L1238.0,1176.4 L1243.0,1181.0 L1248.0,1185.6 L1253.0,1190.2 L1258.0,1194.7 L1263.0,1199.1 L1268.0,1203.5 L1273.0,1207.8 L1278.0,1212.0 L1283.0,1216.1 L1288.0,1220.1 L1293.0,1224.0 L1298.0,1227.8 L1303.0,1231.5 L1308.0,1235.0 L1313.0,1238.5 L1318.0,1241.8 L1323.0,1245.0 L1328.0,1248.1 L1333.0,1251.1 L1338.0,1254.0 L1343.0,1256.8 L1348.0,1259.5 L1353.0,1262.2 L1358.0,1264.8 L1363.0,1267.4 L1368.0,1269.9 L1373.0,1272.4 L1378.0,1274.9 L1383.0,1277.3 L1388.0,1279.7 L1393.0,1282.1 L1398.0,1284.4 L1403.0,1286.7 L1408.0,1289.0 L1413.0,1291.3 L1418.0,1293.5 L1423.0,1295.8 L1428.0,1298.0 L1433.0,1300.1 L1438.0,1302.3 L1443.0,1304.5 L1448.0,1306.6 L1453.0,1308.7 L1458.0,1310.8 L1463.0,1312.9 L1468.0,1314.9 L1473.0,1317.0 L1478.0,1319.0 L1483.0,1321.0 L1488.0,1323.0 L1493.0,1325.0 L1498.0,1327.0 L1503.0,1329.0 L1508.0,1330.9 L1513.0,1332.9 L1518.0,1334.8 L1523.0,1336.8 L1528.0,1338.7 L1533.0,1340.6 L1538.0,1342.6 L1543.0,1344.5 L1548.0,1346.3 L1553.0,1348.2 L1558.0,1350.1 L1563.0,1351.9 L1568.0,1353.7 L1573.0,1355.5 L1578.0,1357.3 L1583.0,1359.0 L1588.0,1360.8 L1593.0,1362.5 L1598.0,1364.1 L1603.0,1365.8 L1608.0,1367.4 L1613.0,1369.0 L1618.0,1370.6 L1623.0,1372.1 L1628.0,1373.6 L1633.0,1375.1 L1638.0,1376.5 L1643.0,1377.9 L1648.0,1379.2 L1653.0,1380.6 L1658.0,1381.8 L1663.0,1383.1 L1668.0,1384.3 L1673.0,1385.5 L1678.0,1386.7 L1683.0,1387.8 L1688.0,1388.9 L1693.0,1390.0 L1698.0,1391.1 L1703.0,1392.1 L1708.0,1393.1 L1713.0,1394.1 L1718.0,1395.0 L1723.0,1396.0 L1728.0,1396.9 L1733.0,1397.8 L1738.0,1398.7 L1743.0,1399.6 L1748.0,1400.4 L1753.0,1401.3 L1758.0,1402.1 L1763.0,1402.9 L1768.0,1403.7 L1773.0,1404.5 L1778.0,1405.3 L1783.0,1406.1 L1788.0,1406.9 L1793.0,1407.6 L1798.0,1408.4 L1803.0,1409.1 L1808.0,1409.9 L1813.0,1410.6 L1818.0,1411.3 L1823.0,1412.0 L1828.0,1412.7 L1833.0,1413.4 L1838.0,1414.1 L1843.0,1414.8 L1848.0,1415.5 L1853.0,1416.1 L1858.0,1416.8 L1863.0,1417.4 L1868.0,1418.0 L1873.0,1418.7 L1878.0,1419.3 L1883.0,1419.9 L1888.0,1420.5 L1893.0,1421.1 L1898.0,1421.7 L1903.0,1422.2 L1908.0,1422.8 L1913.0,1423.3 L1918.0,1423.9 L1923.0,1424.4 L1928.0,1424.9 L1933.0,1425.4 L1938.0,1425.9 L1943.0,1426.4 L1948.0,1426.9 L1953.0,1427.4 L1958.0,1427.9 L1963.0,1428.3 L1968.0,1428.8 L1973.0,1429.2 L1978.0,1429.6 L1983.0,1430.0 L1988.0,1430.4 L1993.0,1430.8 L1998.0,1431.2 L2003.0,1431.6 L2008.0,1431.9 L2013.0,1432.3 L2018.0,1432.6 L2023.0,1433.0 L2028.0,1433.3 L2033.0,1433.6 L2038.0,1433.9 L2043.0,1434.2 L2048.0,1434.4 L2053.0,1434.7 L2058.0,1435.0 L2063.0,1435.2 L2068.0,1435.5 L2073.0,1435.7 L2078.0,1435.9 L2083.0,1436.1 L2088.0,1436.3 L2093.0,1436.5 L2098.0,1436.6 L2103.0,1436.8 L2108.0,1436.9 L2113.0,1437.1 L2118.0,1437.2" stroke="#ff0000" stroke-width="7.6"/>
<path d="M333.0,1448.7 L338.0,1448.7 L343.0,1448.7 L348.0,1448.7 L353.0,1448.7 L358.0,1448.7 L363.0,1448.7 L368.0,1448.7 L373.0,1448.7 L378.0,1448.7 L383.0,1448.7 L388.0,1448.7 L393.0,1448.6 L398.0,1448.6 L403.0,1448.6 L408.0,1448.6 L413.0,1448.5 L418.0,1448.5 L423.0,1448.5 L428.0,1448.5 L433.0,1448.4 L438.0,1448.4 L443.0,1448.4 L448.0,1448.4 L453.0,1448.4 L458.0,1448.3 L463.0,1448.3 L468.0,1448.3 L473.0,1448.3 L478.0,1448.3 L483.0,1448.3 L488.0,1448.3 L493.0,1448.3 L498.0,1448.3 L503.0,1448.3 L508.0,1448.2 L513.0,1448.2 L518.0,1448.1 L523.0,1448.0 L528.0,1447.9 L533.0,1447.7 L538.0,1447.5 L543.0,1447.3 L548.0,1447.1 L553.0,1446.8 L558.0,1446.5 L563.0,1446.1 L568.0,1445.7 L573.0,1445.2 L578.0,1444.7 L583.0,1444.2 L588.0,1443.6 L593.0,1442.9 L598.0,1442.2 L603.0,1441.5 L608.0,1440.7 L613.0,1439.8 L618.0,1439.0 L623.0,1438.0 L628.0,1437.0 L633.0,1436.0 L638.0,1434.9 L643.0,1433.8 L648.0,1432.7 L653.0,1431.4 L658.0,1430.2 L663.0,1428.9 L668.0,1427.5 L673.0,1426.1 L678.0,1424.7 L683.0,1423.2 L688.0,1421.7 L693.0,1420.2 L698.0,1418.6 L703.0,1417.1 L708.0,1415.5 L713.0,1413.9 L718.0,1412.4 L723.0,1410.8 L728.0,1409.2 L733.0,1407.7 L738.0,1406.1 L743.0,1404.6 L748.0,1403.1 L753.0,1401.7 L758.0,1400.3 L763.0,1398.9 L768.0,1397.5 L773.0,1396.3 L778.0,1395.0 L783.0,1393.8 L788.0,1392.7 L793.0,1391.7 L798.0,1390.6 L803.0,1389.7 L808.0,1388.8 L813.0,1388.0 L818.0,1387.2 L823.0,1386.6 L828.0,1386.0 L833.0,1385.4 L838.0,1384.9 L843.0,1384.5 L848.0,1384.2 L853.0,1383.8 L858.0,1383.5 L863.0,1383.3 L868.0,1383.0 L873.0,1382.8 L878.0,1382.5 L883.0,1382.2 L888.0,1382.0 L893.0,1381.7 L898.0,1381.3 L903.0,1381.0 L908.0,1380.6 L913.0,1380.3 L918.0,1379.9 L923.0,1379.5 L928.0,1379.1 L933.0,1378.7 L938.0,1378.3 L943.0,1377.9 L948.0,1377.5 L953.0,1377.1 L958.0,1376.7 L963.0,1376.3 L968.0,1375.9 L973.0,1375.5 L978.0,1375.1 L983.0,1374.8 L988.0,1374.4 L993.0,1374.1 L998.0,1373.8 L1003.0,1373.5 L1008.0,1373.3 L1013.0,1373.1 L1018.0,1372.9 L1023.0,1372.7 L1028.0,1372.6 L1033.0,1372.6 L1038.0,1372.5 L1043.0,1372.5 L1048.0,1372.6 L1053.0,1372.7 L1058.0,1372.9 L1063.0,1373.1 L1068.0,1373.4 L1073.0,1373.7 L1078.0,1374.1 L1083.0,1374.5 L1088.0,1375.0 L1093.0,1375.6 L1098.0,1376.1 L1103.0,1376.8 L1108.0,1377.4 L1113.0,1378.1 L1118.0,1378.9 L1123.0,1379.6 L1128.0,1380.4 L1133.0,1381.2 L1138.0,1382.0 L1143.0,1382.8 L1148.0,1383.6 L1153.0,1384.5 L1158.0,1385.3 L1163.0,1386.1 L1168.0,1387.0 L1173.0,1387.8 L1178.0,1388.6 L1183.0,1389.4 L1188.0,1390.2 L1193.0,1391.0 L1198.0,1391.8 L1203.0,1392.6 L1208.0,1393.4 L1213.0,1394.2 L1218.0,1394.9 L1223.0,1395.7 L1228.0,1396.4 L1233.0,1397.2 L1238.0,1397.9 L1243.0,1398.6 L1248.0,1399.4 L1253.0,1400.1 L1258.0,1400.8 L1263.0,1401.5 L1268.0,1402.2 L1273.0,1402.9 L1278.0,1403.6 L1283.0,1404.2 L1288.0,1404.9 L1293.0,1405.6 L1298.0,1406.2 L1303.0,1406.9 L1308.0,1407.5 L1313.0,1408.1 L1318.0,1408.8 L1323.0,1409.4 L1328.0,1410.0 L1333.0,1410.6 L1338.0,1411.2 L1343.0,1411.8 L1348.0,1412.4 L1353.0,1412.9 L1358.0,1413.5 L1363.0,1414.0 L1368.0,1414.6 L1373.0,1415.1 L1378.0,1415.7 L1383.0,1416.2 L1388.0,1416.7 L1393.0,1417.2 L1398.0,1417.7 L1403.0,1418.2 L1408.0,1418.7 L1413.0,1419.2 L1418.0,1419.7 L1423.0,1420.2 L1428.0,1420.6 L1433.0,1421.1 L1438.0,1421.5 L1443.0,1421.9 L1448.0,1422.4 L1453.0,1422.8 L1458.0,1423.2 L1463.0,1423.6 L1468.0,1424.0 L1473.0,1424.4 L1478.0,1424.8 L1483.0,1425.2 L1488.0,1425.6 L1493.0,1426.0 L1498.0,1426.3 L1503.0,1426.7 L1508.0,1427.0 L1513.0,1427.4 L1518.0,1427.7 L1523.0,1428.1 L1528.0,1428.4 L1533.0,1428.7 L1538.0,1429.1 L1543.0,1429.4 L1548.0,1429.7 L1553.0,1430.0 L1558.0,1430.3 L1563.0,1430.6 L1568.0,1430.9 L1573.0,1431.2 L1578.0,1431.5 L1583.0,1431.8 L1588.0,1432.0 L1593.0,1432.3 L1598.0,1432.6 L1603.0,1432.9 L1608.0,1433.1 L1613.0,1433.4 L1618.0,1433.6 L1623.0,1433.9 L1628.0,1434.1 L1633.0,1434.4 L1638.0,1434.6 L1643.0,1434.9 L1648.0,1435.1 L1653.0,1435.3 L1658.0,1435.6 L1663.0,1435.8 L1668.0,1436.0 L1673.0,1436.3 L1678.0,1436.5 L1683.0,1436.7 L1688.0,1436.9 L1693.0,1437.1 L1698.0,1437.3 L1703.0,1437.6 L1708.0,1437.8 L1713.0,1438.0 L1718.0,1438.2 L1723.0,1438.4 L1728.0,1438.6 L1733.0,1438.8 L1738.0,1439.0 L1743.0,1439.1 L1748.0,1439.3 L1753.0,1439.5 L1758.0,1439.7 L1763.0,1439.9 L1768.0,1440.1 L1773.0,1440.2 L1778.0,1440.4 L1783.0,1440.6 L1788.0,1440.8 L1793.0,1440.9 L1798.0,1441.1 L1803.0,1441.3 L1808.0,1441.4 L1813.0,1441.6 L1818.0,1441.7 L1823.0,1441.9 L1828.0,1442.0 L1833.0,1442.2 L1838.0,1442.3 L1843.0,1442.5 L1848.0,1442.6 L1853.0,1442.8 L1858.0,1442.9 L1863.0,1443.1 L1868.0,1443.2 L1873.0,1443.4 L1878.0,1443.5 L1883.0,1443.6 L1888.0,1443.8 L1893.0,1443.9 L1898.0,1444.0 L1903.0,1444.1 L1908.0,1444.3 L1913.0,1444.4 L1918.0,1444.5 L1923.0,1444.6 L1928.0,1444.8 L1933.0,1444.9 L1938.0,1445.0 L1943.0,1445.1 L1948.0,1445.2 L1953.0,1445.3 L1958.0,1445.4 L1963.0,1445.6 L1968.0,1445.7 L1973.0,1445.8 L1978.0,1445.9 L1983.0,1446.0 L1988.0,1446.1 L1993.0,1446.2 L1998.0,1446.3 L2003.0,1446.4 L2008.0,1446.5 L2013.0,1446.6 L2018.0,1446.7 L2023.0,1446.8 L2028.0,1446.9 L2033.0,1447.0 L2038.0,1447.1 L2043.0,1447.1 L2048.0,1447.2 L2053.0,1447.3 L2058.0,1447.4 L2063.0,1447.5 L2068.0,1447.6 L2073.0,1447.7 L2078.0,1447.8 L2083.0,1447.8 L2088.0,1447.9 L2093.0,1448.0 L2098.0,1448.1 L2103.0,1448.2 L2108.0,1448.3 L2113.0,1448.3 L2118.0,1448.4" stroke="#0000ff" stroke-width="5.2"/>
</g>
<rect x="331.2" y="262" width="2.6" height="1203" fill="#a0a0a0"/><rect x="333.8" y="262" width="2.9" height="1203" fill="#000"/><rect x="333.8" y="262" width="1788.6" height="5.3" fill="#000"/><rect x="2117.1" y="262" width="5.2" height="1203" fill="#000"/><rect x="333.8" y="859.8" width="1788.6" height="5" fill="#000"/><rect x="333.8" y="1459.6" width="1788.6" height="3.6" fill="#000"/><rect x="333.8" y="1463.2" width="1788.6" height="1.8" fill="#9a9a9a"/><rect x="629.3" y="265" width="5.4" height="13" fill="#000"/><rect x="926.8" y="265" width="5.4" height="24" fill="#000"/><rect x="1224.3" y="265" width="5.4" height="13" fill="#000"/><rect x="1521.8" y="265" width="5.4" height="24" fill="#000"/><rect x="1819.3" y="265" width="5.4" height="13" fill="#000"/><rect x="546.0" y="1437" width="5.4" height="23" fill="#000"/><rect x="760.2" y="1448" width="5.4" height="12" fill="#000"/><rect x="974.4" y="1437" width="5.4" height="23" fill="#000"/><rect x="1188.6" y="1448" width="5.4" height="12" fill="#000"/><rect x="1402.8" y="1437" width="5.4" height="23" fill="#000"/><rect x="1617.0" y="1448" width="5.4" height="12" fill="#000"/><rect x="1831.2" y="1437" width="5.4" height="23" fill="#000"/><rect x="2045.4" y="1448" width="5.4" height="12" fill="#000"/><rect x="335" y="853.8" width="26" height="5.5" fill="#000"/><rect x="335" y="723.4" width="15" height="2.6" fill="#000"/><rect x="335" y="590.1" width="26" height="5.5" fill="#000"/><rect x="335" y="459.8" width="15" height="2.6" fill="#000"/><rect x="335" y="326.5" width="26" height="5.5" fill="#000"/><rect x="335" y="1361.0" width="15" height="3" fill="#000"/><rect x="335" y="1274.2" width="26" height="4.4" fill="#000"/><rect x="335" y="1188.8" width="15" height="3" fill="#000"/><rect x="335" y="1102.1" width="26" height="4.4" fill="#000"/><rect x="335" y="1016.8" width="15" height="3" fill="#000"/><rect x="335" y="930.0" width="26" height="4.4" fill="#000"/><text x="882.2" y="91.5" font-size="98" text-anchor="start" fill="#000" >Wavelength (nm)</text><text x="334.5" y="218" font-size="88" text-anchor="middle" fill="#000" >300</text><text x="929.5" y="218" font-size="88" text-anchor="middle" fill="#000" >400</text><text x="1524.5" y="218" font-size="88" text-anchor="middle" fill="#000" >500</text><text x="2119.5" y="218" font-size="88" text-anchor="middle" fill="#000" >600</text><text x="548.7" y="1554.6" font-size="88" text-anchor="middle" fill="#000" >480</text><text x="977.1" y="1554.6" font-size="88" text-anchor="middle" fill="#000" >540</text><text x="1405.5" y="1554.6" font-size="88" text-anchor="middle" fill="#000" >600</text><text x="1833.9" y="1554.6" font-size="88" text-anchor="middle" fill="#000" >660</text><text x="883.9" y="1673.5" font-size="97.5" text-anchor="start" fill="#000" >Wavelength (nm)</text><text x="308.5" y="354.3" font-size="87" text-anchor="end" fill="#000" >0.16</text><text x="308.5" y="617.9" font-size="87" text-anchor="end" fill="#000" >0.08</text><text x="308.5" y="881.5" font-size="87" text-anchor="end" fill="#000" >0.00</text><text x="308.5" y="1472.5" font-size="88" text-anchor="end" fill="#000" >0</text><text x="308.5" y="1300.4" font-size="88" text-anchor="end" fill="#000" >1</text><text x="308.5" y="1128.3" font-size="88" text-anchor="end" fill="#000" >2</text><text x="308.5" y="956.2" font-size="88" text-anchor="end" fill="#000" >3</text><text x="0" y="0" font-size="98.6" text-anchor="start" fill="#000" transform="translate(95.9,746) rotate(-90)">Absorbance</text><text x="0" y="0" font-size="97" text-anchor="start" fill="#000" transform="translate(95,1521.8) rotate(-90)">Emission (a.u.)</text>
<text x="369.4" y="470" font-size="77" fill="#008800">(1)</text>
<text x="964.5" y="353" font-size="77" fill="#000">(3)</text>
<text x="1288.8" y="340" font-size="77" fill="#ff0000">(2)</text>
<text x="1099.5" y="584" font-size="77" fill="#0000f0">(4)</text>
<text x="1933.5" y="387" font-size="116" fill="#000">(a)</text>
<text x="1933.7" y="1027" font-size="116" fill="#000">(b)</text>
<text x="1053.5" y="963" font-size="77" fill="#ff0000">(2)</text>
<text x="1094.2" y="1294" font-size="77" fill="#000">(3)</text>
<text x="782.3" y="1343" font-size="77" fill="#0000f0">(4)</text>
<text x="364.3" y="1370" font-size="77" fill="#008800">(1)</text>
<line x1="1032.2" y1="1401.1" x2="1075.1" y2="1341.7" stroke="#000" stroke-width="4.2"/>
<polygon points="1093.3,1316.6 1080.9,1348.3 1067.1,1338.4" fill="#000"/>
</svg>
</body></html>
